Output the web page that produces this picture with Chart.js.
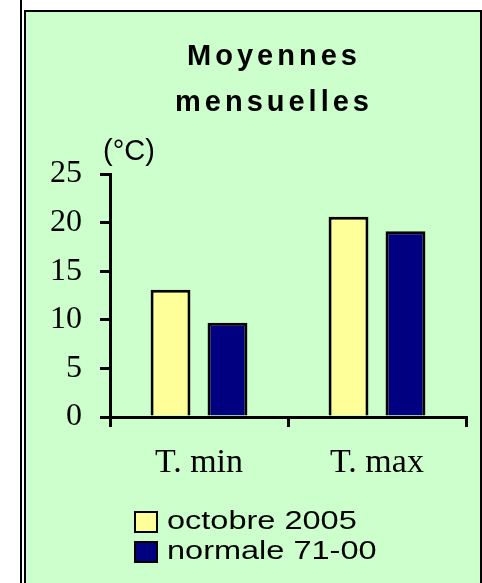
<!DOCTYPE html>
<html>
<head>
<meta charset="utf-8">
<script src="https://cdn.jsdelivr.net/npm/chart.js@4"></script>
<style>
    body { margin: 0; background: #fff; }
    #frame {
        position: absolute; left: 0; top: 0; width: 482px; height: 583px; overflow: hidden;
    }
    #outer { position: absolute; left: 20px; top: 0; width: 2px; height: 583px; background: #000; }
    #panel {
        position: absolute; left: 24px; top: 10px; width: 454px; height: 600px;
        background: #ccffcc; border: 2px solid #000;
    }
    #chart { position: absolute; left: 0; top: 0; }
</style>
</head>
<body>
<div id="frame">
    <div id="outer"></div>
    <div id="panel"></div>
    <canvas id="chart" width="482" height="583"></canvas>
</div>
<script>
// Chart data
const categories = ["T. min", "T. max"];
const seriesLabels = ["octobre 2005", "normale 71-00"];
const octobre2005 = [13.1, 20.6];
const normale7100 = [9.7, 19.1];
const titleLines = ["Moyennes", "mensuelles"];
const unitLabel = "(°C)";

const SANS = "'Liberation Sans', Arial, sans-serif";
const SERIF = "'Liberation Serif', 'Times New Roman', serif";

// Title, unit and legend drawn by hand (Excel-like wide text)
const decorPlugin = {
    id: "decor",
    afterDraw(chart) {
        const ctx = chart.ctx;
        const area = chart.chartArea;
        ctx.save();
        ctx.fillStyle = "#000";
        ctx.textBaseline = "alphabetic";

        // title
        ctx.font = "bold 29px " + SANS;
        ctx.letterSpacing = "4px";
        ctx.textAlign = "center";
        titleLines.forEach((line, i) => ctx.fillText(line, 274, 65 + i * 46));

        // unit
        ctx.letterSpacing = "0px";
        ctx.textAlign = "left";
        ctx.font = "29px " + SANS;
        ctx.fillText(unitLabel, area.left - 7, area.top - 14);

        // legend
        ctx.font = "26px " + SANS;
        chart.data.datasets.forEach((ds, i) => {
            const y = 512 + i * 30;
            ctx.fillStyle = ds.backgroundColor;
            ctx.fillRect(135, y, 22, 20);
            ctx.strokeStyle = "#000";
            ctx.lineWidth = 2;
            ctx.strokeRect(135, y, 22, 20);
            ctx.fillStyle = "#000";
            ctx.save();
            ctx.translate(167, y + 17);
            ctx.scale(1.25, 1);
            ctx.fillText(ds.label, 0, 0);
            ctx.restore();
        });
        ctx.restore();
    }
};

new Chart(document.getElementById("chart"), {
    type: "bar",
    data: {
        labels: categories,
        datasets: [
            {
                label: seriesLabels[0],
                data: octobre2005,
                backgroundColor: "#ffff99",
                borderColor: "#000",
                borderWidth: 3,
                borderSkipped: "bottom",
            },
            {
                label: seriesLabels[1],
                data: normale7100,
                backgroundColor: "#000080",
                borderColor: "#000",
                borderWidth: 3,
                borderSkipped: "bottom",
            }
        ]
    },
    options: {
        responsive: false,
        animation: false,
        categoryPercentage: 0.64,
        barPercentage: 0.7,
        layout: { padding: { left: 0, right: 16, top: 174, bottom: 96 } },
        plugins: {
            legend: { display: false },
            title: { display: false },
            tooltip: { enabled: false }
        },
        scales: {
            x: {
                afterFit: scale => { scale.height = 70; },
                grid: { drawOnChartArea: false, color: "#000", lineWidth: 3, tickLength: 10 },
                border: { color: "#000", width: 3 },
                ticks: { color: "#000", padding: 16, font: { family: SERIF, size: 34 } }
            },
            y: {
                min: 0,
                max: 25,
                afterFit: scale => { scale.width = 110; },
                grid: { drawOnChartArea: false, color: "#000", lineWidth: 3, tickLength: 10 },
                border: { color: "#000", width: 3 },
                ticks: { stepSize: 5, color: "#000", padding: 18, font: { family: SERIF, size: 32 } }
            }
        }
    },
    plugins: [decorPlugin]
});
</script>
</body>
</html>
